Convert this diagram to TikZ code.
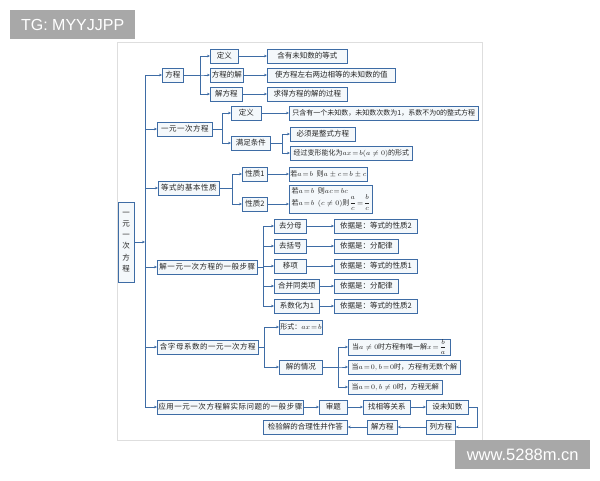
\documentclass[tikz,border=0pt]{standalone}
\usepackage{amsmath}
\usepackage{fontspec}
\newfontfamily\cjk{Noto Sans CJK SC}
\newfontfamily\wmfont{Liberation Sans}
\usetikzlibrary{arrows.meta}
\definecolor{boxline}{RGB}{62,108,165}
\definecolor{boxfill}{RGB}{244,248,251}
\definecolor{panelline}{RGB}{222,222,222}
\definecolor{wmgray}{RGB}{168,168,168}
\tikzset{
  nbox/.style={draw=boxline, fill=boxfill, line width=0.7pt, anchor=west, inner sep=1pt,
    minimum height=14pt, align=center, text=black!85, font=\cjk\fontsize{7.5}{8.5}\selectfont},
  mbox/.style={nbox, font=\cjk\fontsize{7}{8}\selectfont},
  wide/.style={nbox, font=\cjk\fontsize{7.5}{8.5}\selectfont\addfontfeature{LetterSpace=7}},
  arr/.style={draw=boxline, line width=0.7pt, -{Stealth[length=3pt,width=2.6pt]}},
  wmark/.style={fill=wmgray, text=white, inner sep=0pt, font=\wmfont\fontsize{16}{18}\selectfont}
}
\begin{document}
\begin{tikzpicture}[x=1pt, y=-1pt]
\useasboundingbox (0,0) rectangle (600,480);
\fill[white] (0,0) rectangle (600,480);
\draw[panelline, line width=0.6pt] (117,42) rectangle (482,440);

% root and trunk
\node[nbox, anchor=center, minimum width=16, minimum height=80, font=\cjk\fontsize{7.5}{11.3}\selectfont] (root) at (126,242) {一\\元\\一\\次\\方\\程};
\coordinate (trunk) at (145,242);
\draw[arr] (root.east) -- (trunk);

% first level
\node[nbox, minimum width=21] (fc) at (162,75) {方程};
\node[wide, minimum width=55] (yy) at (157,129) {一元一次方程};
\node[wide, minimum width=61] (dx) at (158,188) {等式的基本性质};
\node[wide, minimum width=100] (jf) at (157,267) {解一元一次方程的一般步骤};
\node[wide, minimum width=101] (hz) at (157,347) {含字母系数的一元一次方程};
\node[wide, minimum width=145] (yyong) at (157,407) {应用一元一次方程解实际问题的一般步骤};
\foreach \n in {fc,yy,dx,jf,hz,yyong}
  \draw[arr] (trunk) |- (\n.west);

% fangcheng
\node[nbox, minimum width=28] (fc1) at (210,56) {定义};
\node[nbox, minimum width=33] (fc2) at (210,75) {方程的解};
\node[nbox, minimum width=32] (fc3) at (210,94) {解方程};
\node[nbox, minimum width=80] (fc1a) at (267,56) {含有未知数的等式};
\node[nbox, minimum width=128] (fc2a) at (267,75) {使方程左右两边相等的未知数的值};
\node[nbox, minimum width=80] (fc3a) at (267,94) {求得方程的解的过程};
\foreach \n in {fc1,fc2,fc3}
  \draw[arr] (fc.east) -- ++(17,0) |- (\n.west);
\draw[arr] (fc1.east) -- (fc1a.west);
\draw[arr] (fc2.east) -- (fc2a.west);
\draw[arr] (fc3.east) -- (fc3a.west);

% yiyuanyici fangcheng
\node[nbox, minimum width=30] (yy1) at (231,113) {定义};
\node[nbox, minimum width=39] (yy2) at (231,143) {满足条件};
\node[mbox, minimum width=189] (yy1a) at (289,113) {只含有一个未知数，未知数次数为1，系数不为0的整式方程};
\node[nbox, minimum width=65] (yy2a) at (290,134) {必须是整式方程};
\node[mbox, minimum width=122] (yy2b) at (290,153) {经过变形能化为$ax\!=\!b(a\neq0)$的形式};
\foreach \n in {yy1,yy2}
  \draw[arr] (yy.east) -- ++(10,0) |- (\n.west);
\draw[arr] (yy1.east) -- (yy1a.west);
\foreach \n in {yy2a,yy2b}
  \draw[arr] (yy2.east) -- ++(12,0) |- (\n.west);

% dengshi xingzhi
\node[nbox, minimum width=25] (dx1) at (242,174) {性质1};
\node[nbox, minimum width=25] (dx2) at (242,204) {性质2};
\node[mbox, minimum width=75] (dx1a) at (289,174) {若$a\!=\!b$\enspace 则$a\pm c\!=\!b\pm c$};
\node[mbox, minimum width=83, minimum height=28, align=left, font=\cjk\fontsize{7}{10}\selectfont] (dx2a) at (289,199) {若$a\!=\!b$\enspace 则$ac\!=\!bc$\\若$a\!=\!b$\enspace$(c\neq0)$则$\dfrac{a}{c}\!=\!\dfrac{b}{c}$};
\foreach \n in {dx1,dx2}
  \draw[arr] (dx.east) -- ++(13,0) |- (\n.west);
\draw[arr] (dx1.east) -- (dx1a.west);
\draw[arr] (dx2.east) -- (dx2.east -| dx2a.west);

% jie fangcheng buzhou
\node[nbox, minimum width=32] (jf1) at (274,226) {去分母};
\node[nbox, minimum width=32] (jf2) at (274,246) {去括号};
\node[nbox, minimum width=32] (jf3) at (274,266) {移项};
\node[nbox, minimum width=45] (jf4) at (274,286) {合并同类项};
\node[nbox, minimum width=45] (jf5) at (274,306) {系数化为1};
\node[nbox, minimum width=83] (jf1a) at (334,226) {依据是：等式的性质2};
\node[nbox, minimum width=64] (jf2a) at (334,246) {依据是：分配律};
\node[nbox, minimum width=83] (jf3a) at (334,266) {依据是：等式的性质1};
\node[nbox, minimum width=64] (jf4a) at (334,286) {依据是：分配律};
\node[nbox, minimum width=83] (jf5a) at (334,306) {依据是：等式的性质2};
\foreach \n in {jf1,jf2,jf3,jf4,jf5}{
  \draw[arr] (jf.east) -- ++(6,0) |- (\n.west);
  \draw[arr] (\n.east) -- (\n a.west);
}

% zimu xishu
\node[mbox, minimum width=43] (hz1) at (279,327) {形式：$ax\!=\!b$};
\node[nbox, minimum width=43] (hz2) at (279,367) {解的情况};
\node[mbox, minimum width=102, inner sep=0.5pt] (hz2a) at (348,347) {当$a\neq0$时方程有唯一解$x\!=\!\dfrac{b}{a}$};
\node[mbox, minimum width=112] (hz2b) at (348,367) {当$a\!=\!0,b\!=\!0$时，方程有无数个解};
\node[mbox, minimum width=94] (hz2c) at (348,387) {当$a\!=\!0,b\neq0$时，方程无解};
\foreach \n in {hz1,hz2}
  \draw[arr] (hz.east) -- ++(6,0) |- (\n.west);
\foreach \n in {hz2a,hz2b,hz2c}
  \draw[arr] (hz2.east) -- ++(16,0) |- (\n.west);

% yingyong buzhou
\node[nbox, minimum width=28] (ys1) at (319,407) {审题};
\node[nbox, minimum width=47] (ys2) at (363,407) {找相等关系};
\node[nbox, minimum width=42] (ys3) at (426,407) {设未知数};
\node[nbox, minimum width=29] (ys4) at (426,427) {列方程};
\node[nbox, minimum width=30] (ys5) at (367,427) {解方程};
\node[nbox, minimum width=84] (ys6) at (263,427) {检验解的合理性并作答};
\draw[arr] (yyong.east) -- (ys1.west);
\draw[arr] (ys1.east) -- (ys2.west);
\draw[arr] (ys2.east) -- (ys3.west);
\draw[arr] (ys3.east) -- ++(9,0) |- (ys4.east);
\draw[arr] (ys4.west) -- (ys5.east);
\draw[arr] (ys5.west) -- (ys6.east);

% watermarks
\node[wmark, minimum width=125, minimum height=29, anchor=north west] (wm1) at (10,10) {TG: MYYJJPP};
\node[wmark, minimum width=135, minimum height=29, anchor=north west, font=\wmfont\fontsize{16.5}{18}\selectfont] (wm2) at (455,440) {www.5288m.cn};
\end{tikzpicture}
\end{document}
